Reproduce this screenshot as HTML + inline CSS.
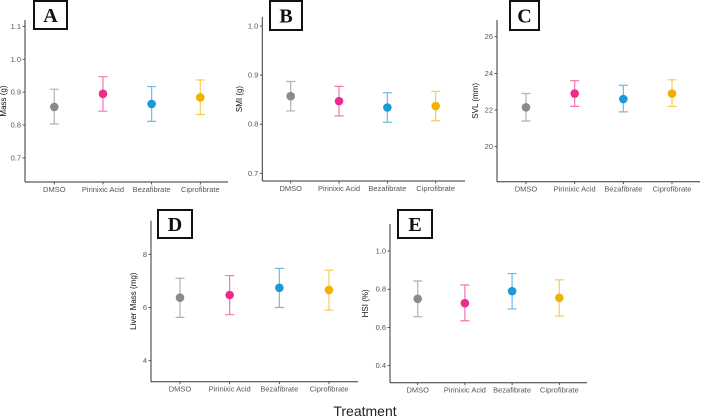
<!DOCTYPE html>
<html><head><meta charset="utf-8"><style>
html,body{margin:0;padding:0;background:#fff;}
svg{display:block;font-family:"Liberation Sans",sans-serif;}
</style></head><body>
<svg id="c" width="702" height="420" viewBox="0 0 702 420">
<text x="365" y="416" font-size="14" text-anchor="middle" fill="#222">Treatment</text>
</svg>
<script>
const categories = ["DMSO","Pirinixic Acid","Bezafibrate","Ciprofibrate"];
const colors = ["#8a8a8a","#ec2c8c","#1a9bd7","#f2b100"];
const aMean = [0.855,0.895,0.864,0.884], aLo = [0.803,0.842,0.811,0.832], aHi = [0.909,0.947,0.917,0.937];
const aTicks = [0.7,0.8,0.9,1.0,1.1];
const bMean = [0.857,0.847,0.834,0.837], bLo = [0.827,0.817,0.804,0.807], bHi = [0.887,0.877,0.864,0.867];
const bTicks = [0.7,0.8,0.9,1.0];
const cMean = [22.15,22.9,22.6,22.9], cLo = [21.4,22.2,21.9,22.2], cHi = [22.9,23.6,23.35,23.65];
const cTicks = [20,22,24,26];
const dMean = [6.37,6.47,6.74,6.66], dLo = [5.63,5.73,6.0,5.9], dHi = [7.1,7.2,7.47,7.4];
const dTicks = [4,6,8];
const eMean = [0.75,0.727,0.79,0.755], eLo = [0.656,0.635,0.697,0.66], eHi = [0.843,0.822,0.882,0.849];
const eTicks = [0.4,0.6,0.8,1.0];

const panels = [
 {id:"a",letter:"A",title:"Mass (g)",mean:aMean,lo:aLo,hi:aHi,ticks:aTicks,dec:1,
  ax:25,top:20,bot:182,right:228,v0:0.8,y0:125,v1:1.0,y1:59.3,cx0:54.3,cx3:200.3,box:[33,0,35,30],tx:6},
 {id:"b",letter:"B",title:"SMI (g)",mean:bMean,lo:bLo,hi:bHi,ticks:bTicks,dec:1,
  ax:262.3,top:17,bot:181,right:465,v0:0.7,y0:173.3,v1:1.0,y1:26,cx0:290.7,cx3:435.7,box:[269,0,34,31],tx:242},
 {id:"c",letter:"C",title:"SVL (mm)",mean:cMean,lo:cLo,hi:cHi,ticks:cTicks,dec:0,
  ax:497,top:20,bot:181.7,right:700,v0:20,y0:146.7,v1:26,y1:36.7,cx0:526,cx3:672,box:[509,0,31,31],tx:478},
 {id:"d",letter:"D",title:"Liver Mass (mg)",mean:dMean,lo:dLo,hi:dHi,ticks:dTicks,dec:0,
  ax:151,top:220.7,bot:381.7,right:358,v0:4,y0:360.7,v1:8,y1:254.3,cx0:180,cx3:329,box:[157,209,36,30],tx:136},
 {id:"e",letter:"E",title:"HSI (%)",mean:eMean,lo:eLo,hi:eHi,ticks:eTicks,dec:1,
  ax:390,top:224,bot:382.7,right:587,v0:0.4,y0:365.7,v1:1.0,y1:251,cx0:417.7,cx3:559.3,box:[397,209,36,30],tx:368}
];
const svg = document.getElementById('c');
const NS = "http://www.w3.org/2000/svg";
function mk(tag, attrs, parent){
  const e = document.createElementNS(NS, tag);
  for (const k in attrs) e.setAttribute(k, attrs[k]);
  (parent||svg).appendChild(e); return e;
}
panels.forEach(p=>{
  const g = mk('g',{});
  
  
  const y = v => p.y0 + (v - p.v0) * (p.y1 - p.y0) / (p.v1 - p.v0);
  const x = i => p.cx0 + i * (p.cx3 - p.cx0) / 3;
  const ya = mk('line',{x1:p.ax,y1:p.top,x2:p.ax,y2:p.bot,stroke:"#333","stroke-width":1},g);
  
  
  const xa = mk('line',{x1:p.ax,y1:p.bot,x2:p.right,y2:p.bot,stroke:"#333","stroke-width":1},g);
  
  
  p.ticks.forEach(t=>{
    const yy = y(t);
    mk('line',{x1:p.ax-2.5,y1:yy,x2:p.ax,y2:yy,stroke:"#333","stroke-width":0.8},g);
    const tl = mk('text',{x:p.ax-4,y:yy+2.5,"font-size":7.5,"text-anchor":"end",fill:"#555"},g);
    tl.textContent = t.toFixed(p.dec);
    
    
  });
  const yt = mk('text',{x:p.tx,y:(p.top+p.bot)/2,"font-size":8,"text-anchor":"middle",fill:"#111",transform:`rotate(-90 ${p.tx} ${(p.top+p.bot)/2})`},g);
  yt.textContent = p.title;
  
  
  categories.forEach((c,i)=>{
    const xx = x(i);
    mk('line',{x1:xx,y1:p.bot,x2:xx,y2:p.bot+2.5,stroke:"#333","stroke-width":0.8},g);
    const cl = mk('text',{x:xx,y:p.bot+10,"font-size":7.5,"text-anchor":"middle",fill:"#555"},g);
    cl.textContent = c;
    
    
    const eb = mk('path',{d:`M${xx-4.5},${y(p.hi[i])}H${xx+4.5}M${xx},${y(p.hi[i])}V${y(p.lo[i])}M${xx-4.5},${y(p.lo[i])}H${xx+4.5}`,stroke:colors[i],"stroke-opacity":0.65,"stroke-width":1.2,fill:"none"},g);
    
    
    const pt = mk('circle',{cx:xx,cy:y(p.mean[i]),r:4.3,fill:colors[i]},g);
    
    
  });
  const b = p.box;
  const br = mk('rect',{x:b[0]+1,y:b[1]+1,width:b[2]-2,height:b[3]-2,fill:"#fff",stroke:"#111","stroke-width":2},g);
  
  
  const bl = mk('text',{x:b[0]+b[2]/2,y:b[1]+b[3]/2+7,"font-size":20,"font-weight":"bold","text-anchor":"middle","font-family":"Liberation Serif, serif",fill:"#111"},g);
  bl.textContent = p.letter;
  
  
});
</script>
</body></html>
